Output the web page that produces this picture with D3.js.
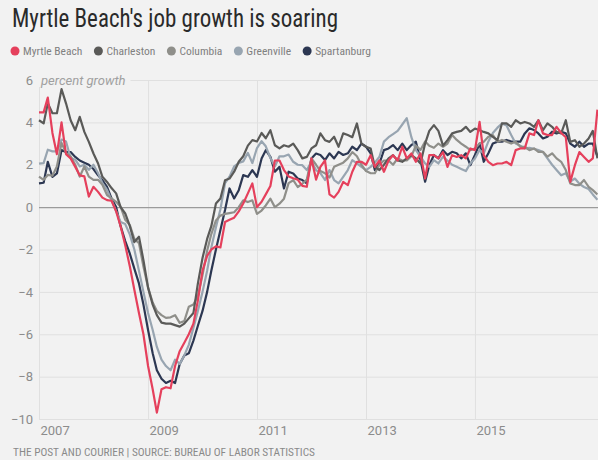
<!DOCTYPE html>
<html>
<head>
<meta charset="utf-8">
<script src="https://cdn.jsdelivr.net/npm/d3@7"></script>
<style>
  body { margin: 0; background: #f2f2f2; }
  svg { display: block; font-family: "Liberation Sans Narrow", "Roboto Condensed", Roboto, sans-serif; }
</style>
</head>
<body>
<div class="vis-linechart"></div>
<script>
// monthly year-over-year job growth, Jan 2007 .. Apr 2017
const seriesNames = ["Myrtle Beach", "Charleston", "Columbia", "Greenville", "Spartanburg"];
const seriesColors = ["#e5405c", "#5a5a58", "#8f8f8a", "#98a5b1", "#2c3752"];

const myrtleBeach = [
  4.47, 4.47, 5.17, 3.5, 2.5, 4.0, 2.5, 2.3, 1.9, 1.5,
  1.45, 0.5, 0.96, 0.72, 0.45, 0.33, 0.3, -0.2, -0.9, -1.8,
  -2.8, -3.9, -5.0, -6.0, -7.5, -8.6, -9.7, -8.6, -8.5, -8.55,
  -7.5, -6.8, -6.4, -6.0, -5.5, -4.4, -3.0, -2.3, -2.0, -1.85,
  -1.9, -0.7, -0.6, -0.5, -0.2, 0.17, 0.65, 1.12, 0.0, 0.25,
  0.6, 1.0, 2.2, 2.2, 1.75, 1.45, 1.36, 1.3, 1.0, 0.96,
  2.3, 1.3, 1.9, 2.2, 0.6, 0.45, 0.72, 1.19, 1.04, 1.67,
  2.14, 2.14, 2.0, 2.45, 1.9, 2.2, 1.67, 2.2, 2.45, 2.2,
  2.85, 2.3, 2.53, 2.14, 2.53, 1.35, 2.45, 2.45, 2.3, 2.6,
  1.9, 2.45, 2.37, 2.45, 2.3, 2.77, 2.69, 4.02, 2.45, 2.14,
  1.98, 2.06, 2.06, 2.14, 1.98, 2.69, 2.77, 2.77, 3.48, 3.4,
  4.1, 3.48, 3.4, 3.4, 3.79, 3.5, 3.3, 1.19, 1.98, 2.6,
  2.37, 2.14, 2.3, 4.6
];
const charleston = [
  4.1, 3.95, 4.9, 4.43, 4.43, 5.57, 4.9, 4.1, 3.63, 4.26,
  3.55, 3.08, 2.53, 2.06, 1.43, 1.19, 0.9, 0.65, 0.0, -0.3,
  -0.9, -1.65, -1.4, -2.5, -3.8, -4.6, -5.1, -5.45, -5.5, -5.5,
  -5.57, -5.64, -5.5, -5.25, -5.0, -3.6, -2.4, -1.5, -0.9, 0.17,
  0.41, 1.27, 1.35, 1.67, 2.14, 2.4, 2.9, 3.16, 3.1, 3.5,
  3.25, 3.63, 2.92, 2.77, 2.92, 2.85, 3.0, 2.69, 2.3, 2.37,
  2.77, 2.92, 3.48, 3.16, 3.08, 3.32, 2.85, 3.48, 3.4, 3.3,
  3.95, 3.0, 2.85, 2.77, 1.9, 1.75, 2.0, 2.3, 2.45, 2.2,
  2.14, 2.3, 2.45, 2.3, 2.06, 3.0, 3.6, 3.87, 3.6, 2.9,
  3.16, 3.48, 3.55, 3.6, 3.79, 3.55, 3.71, 3.63, 3.55, 3.48,
  3.32, 3.16, 3.95, 3.95, 3.79, 4.1, 3.95, 4.02, 3.95, 3.79,
  4.1, 3.63, 3.95, 3.79, 3.55, 3.48, 4.1, 3.08, 3.16, 2.85,
  3.0, 3.24, 3.6, 2.3
];
const columbia = [
  1.44, 1.29, 1.52, 1.48, 1.92, 3.03, 2.56, 2.4, 2.0, 1.44,
  1.92, 1.44, 1.29, 1.29, 1.05, 0.57, 0.41, 0.25, 0.02, -0.6,
  -0.85, -1.5, -1.7, -2.8, -3.8, -4.5, -4.9, -5.1, -5.23, -5.2,
  -5.1, -5.46, -5.38, -4.7, -4.6, -4.2, -3.2, -2.06, -1.27, -0.63,
  -0.4, -0.32, -0.28, -0.24, 0.0, 0.32, 0.24, 0.32, -0.32, -0.16,
  0.08, 0.4, 0.0, 0.16, 0.4, 1.13, 1.27, 0.95, 1.1, 1.3,
  2.3, 2.0, 1.7, 1.6, 1.4, 1.9, 2.0, 2.1, 2.3, 2.6,
  2.4, 2.0, 1.7, 1.6, 1.6, 2.0, 2.2, 2.2, 2.0, 2.3,
  2.2, 2.2, 2.4, 2.9, 2.7, 3.1, 2.9, 2.8, 3.0, 2.85,
  3.0, 3.4, 3.17, 3.0, 2.85, 2.69, 2.77, 3.0, 3.09, 3.32,
  3.4, 3.09, 3.17, 3.09, 3.0, 3.09, 2.85, 2.85, 2.69, 2.77,
  2.61, 2.61, 2.38, 2.54, 2.3, 2.14, 1.75, 1.12, 1.04, 1.04,
  1.28, 0.96, 0.8, 0.6
];
const greenville = [
  2.05, 2.08, 2.71, 2.63, 2.63, 3.19, 3.1, 2.32, 2.24, 1.92,
  2.0, 1.76, 2.0, 1.6, 1.13, 0.81, 0.33, -0.2, -0.7, -0.8,
  -1.3, -2.0, -3.0, -4.0, -5.0, -5.8, -6.6, -7.2, -7.5, -7.7,
  -7.2, -7.4, -7.0, -6.5, -5.7, -4.9, -4.0, -3.0, -1.9, -0.95,
  -0.1, 1.13, 1.44, 1.92, 2.08, 2.16, 2.56, 2.08, 2.79, 3.11,
  2.87, 2.32, 1.92, 2.4, 2.4, 2.48, 2.14, 2.0, 1.98, 1.75,
  2.14, 1.75, 1.6, 1.28, 1.75, 1.28, 1.12, 1.43, 1.75, 2.22,
  2.06, 1.9, 1.75, 1.9, 2.1, 2.38, 3.09, 3.3, 3.45, 3.6,
  3.9, 4.2, 3.3, 2.69, 2.38, 2.06, 1.9, 2.22, 2.06, 2.38,
  2.2, 2.0, 1.9, 1.8, 1.7, 2.06, 2.3, 2.7, 2.54, 3.1,
  3.5, 3.75, 3.95, 3.85, 3.4, 3.0, 2.9, 2.77, 2.8, 2.75,
  2.69, 2.6, 2.3, 2.0, 1.75, 1.5, 1.6, 1.2, 1.35, 1.1,
  0.95, 0.85, 0.6, 0.35
];
const spartanburg = [
  1.12, 1.15, 2.14, 1.43, 1.59, 2.69, 2.6, 2.6, 2.37, 2.2,
  2.1, 2.0, 1.8, 1.5, 1.27, 0.96, 0.41, 0.0, -0.9, -1.6,
  -2.2, -2.9, -3.6, -4.6, -5.8, -6.9, -7.7, -8.1, -8.3, -8.2,
  -8.3, -7.4, -7.0, -6.9, -6.3, -5.6, -4.9, -4.0, -3.0, -2.0,
  -1.08, -0.14, 0.88, 0.41, 0.8, 1.51, 1.43, 1.75, 1.43, 2.3,
  2.69, 2.37, 1.67, 1.9, 0.88, 1.67, 1.59, 1.35, 1.28, 1.12,
  2.3, 2.53, 2.46, 2.22, 2.54, 2.3, 2.61, 2.46, 2.54, 2.85,
  2.69, 3.0, 2.85, 2.54, 1.75, 2.06, 2.69, 2.77, 2.93, 2.69,
  3.0, 2.69, 2.93, 3.09, 2.22, 1.2, 1.98, 2.46, 2.3, 2.69,
  2.46, 2.61, 2.54, 2.3, 2.54, 1.98, 2.46, 3.0, 2.14, 2.54,
  3.0, 3.09, 3.09, 3.17, 3.09, 3.09, 3.09, 3.48, 3.72, 3.64,
  3.48, 3.24, 3.32, 3.56, 3.48, 3.56, 3.48, 3.0, 2.85, 3.09,
  2.85, 3.0, 3.0, 2.4
];

const yTicks = [-10, -8, -6, -4, -2, 0, 2, 4, 6];
const xTickYears = [2007, 2009, 2011, 2013, 2015];
const titleText = "Myrtle Beach's job growth is soaring";
const yLabelText = "percent growth";
const sourceText = "THE POST AND COURIER | SOURCE: BUREAU OF LABOR STATISTICS";

const W = 598, H = 460;
const plot = { left: 39, right: 598, top: 80, bottom: 419 };

const valueLists = [myrtleBeach, charleston, columbia, greenville, spartanburg];
const series = seriesNames.map((name, i) => ({
  name,
  color: seriesColors[i],
  values: valueLists[i].map((v, m) => ({ date: new Date(2007, m, 1), value: v }))
}));

const svg = d3.select(".vis-linechart").append("svg")
  .attr("width", W).attr("height", H);

svg.append("rect").attr("width", W).attr("height", H).attr("fill", "#f2f2f2");

const x = d3.scaleTime()
  .domain([new Date(2007, 0, 1), new Date(2017, 0, 1)])
  .range([plot.left, 584]);

const y = d3.scaleLinear()
  .domain([-10, 6])
  .range([plot.bottom, plot.top]);

// title
svg.append("text")
  .attr("x", 12).attr("y", 27)
  .attr("font-size", 25)
  .attr("fill", "#2a2a2a")
  .attr("textLength", 326)
  .attr("lengthAdjust", "spacingAndGlyphs")
  .text(titleText);

// legend
const legend = svg.append("g").attr("transform", "translate(15,51)");
let lx = 0;
series.forEach(s => {
  const g = legend.append("g").attr("transform", `translate(${lx},0)`);
  g.append("circle").attr("r", 4.5).attr("fill", s.color);
  const t = g.append("text")
    .attr("x", 8).attr("dy", "0.35em")
    .attr("font-size", 11.5).attr("fill", "#808080")
    .text(s.name);
  lx += 8 + t.node().getComputedTextLength() + 16;
});

// x axis + vertical grid
svg.append("g")
  .attr("transform", `translate(0,${plot.bottom})`)
  .call(d3.axisBottom(x)
    .tickValues(xTickYears.map(yr => new Date(yr, 0, 1)))
    .tickSize(-(plot.bottom - plot.top))
    .tickPadding(7)
    .tickFormat(d3.timeFormat("%Y")))
  .call(g => g.select(".domain").remove())
  .call(g => g.selectAll(".tick line").attr("stroke", "#e0e0e0"))
  .call(g => g.selectAll(".tick text")
    .attr("text-anchor", "start")
    .attr("x", 1)
    .attr("font-size", 13)
    .attr("font-family", "Roboto, sans-serif")
    .attr("fill", "#8c8c8c"));

// y axis + horizontal grid
svg.append("g")
  .attr("transform", `translate(${plot.left},0)`)
  .call(d3.axisLeft(y)
    .tickValues(yTicks)
    .tickSize(-(plot.right - plot.left))
    .tickPadding(6))
  .call(g => g.select(".domain").remove())
  .call(g => g.selectAll(".tick line")
    .attr("stroke", d => d === 0 ? "#9b9b9b" : "#e0e0e0")
    .attr("stroke-width", d => d === 0 ? 1.3 : 1))
  .call(g => g.selectAll(".tick text")
    .attr("font-size", 13)
    .attr("font-family", "Roboto, sans-serif")
    .attr("fill", "#8c8c8c"));

// unit label on top tick
const yl = svg.append("g").attr("transform", `translate(${plot.left},${y(6)})`);
const ylText = yl.append("text")
  .attr("x", 2).attr("dy", "0.35em")
  .attr("font-size", 13).attr("font-style", "italic")
  .attr("font-family", "Roboto, sans-serif")
  .attr("fill", "#a0a0a0")
  .text(yLabelText);
yl.insert("rect", "text")
  .attr("x", -1).attr("y", -7)
  .attr("width", ylText.node().getComputedTextLength() + 8)
  .attr("height", 14)
  .attr("fill", "#f2f2f2");

// lines
const line = d3.line()
  .x(d => x(d.date))
  .y(d => y(d.value));

svg.append("g")
  .selectAll("path")
  .data(series.slice().reverse())
  .join("path")
    .attr("fill", "none")
    .attr("stroke", d => d.color)
    .attr("stroke-width", 2.2)
    .attr("stroke-linejoin", "round")
    .attr("d", d => line(d.values));

// source
svg.append("text")
  .attr("x", 13).attr("y", 456)
  .attr("font-size", 11)
  .attr("fill", "#8a8a8a")
  .attr("textLength", 302)
  .attr("lengthAdjust", "spacingAndGlyphs")
  .text(sourceText);
</script>
</body>
</html>
